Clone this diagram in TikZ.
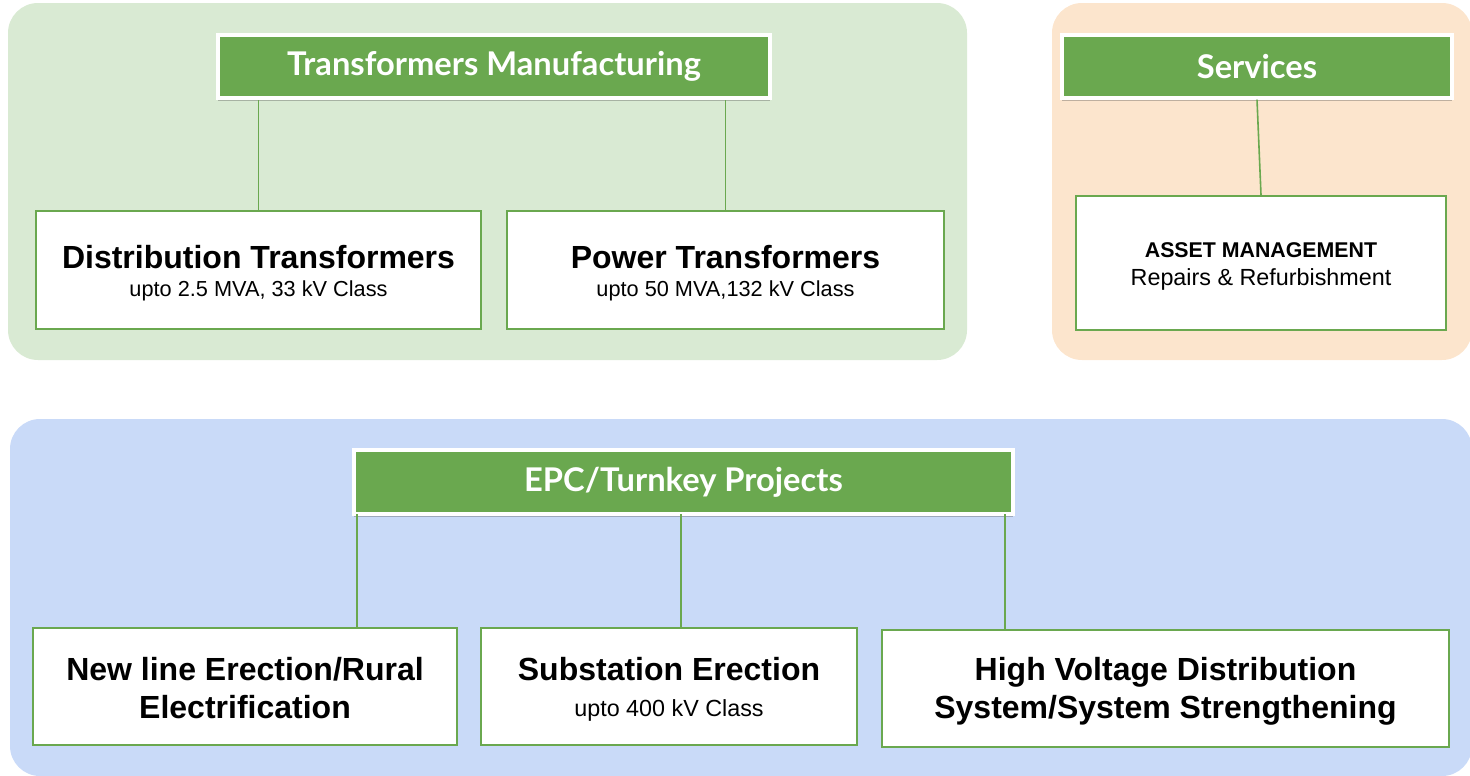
\documentclass[tikz,border=0pt]{standalone}
\usepackage{fontspec}
\setmainfont{Liberation Sans}
\newfontfamily\headfont{Lato}
\usetikzlibrary{shadows}
\definecolor{pgreen}{HTML}{D9EAD3}
\definecolor{porange}{HTML}{FCE5CD}
\definecolor{pblue}{HTML}{C9DAF8}
\definecolor{hgreen}{HTML}{6AA84F}
\tikzset{
  panel/.style={rounded corners=30*0.75pt, draw=none},
  header/.style={fill=hgreen, draw=white, line width=2.5pt, inner sep=0pt,
    text=white, font=\headfont\bfseries\fontsize{24.5}{28}\selectfont,
    drop shadow={shadow xshift=0pt, shadow yshift=-2.5pt, opacity=0.35, fill=black!70}},
  leaf/.style={fill=white, draw=hgreen, line width=1.5pt, inner sep=0pt, align=center},
  conn/.style={draw=hgreen, line width=1.2pt},
  ttl/.style={font=\bfseries\fontsize{24}{28.5}\selectfont},
}
\newcommand{\subt}[2]{{\fontsize{#1}{#1}\selectfont #2}}
\begin{document}
\begin{tikzpicture}[x=0.75pt,y=-0.75pt]
\useasboundingbox (0,0) rectangle (1470,775);
\clip (0,0) rectangle (1470,775);
% panels
\fill[pgreen, panel] (8,3) rectangle (967,360);
\fill[porange, panel] (1052,3) rectangle (1472,360);
\fill[pblue, panel] (10,419) rectangle (1472,776);
% headers
\node[header, minimum width=552*0.75pt, minimum height=63*0.75pt] (tm) at (494,66.5) {Transformers Manufacturing};
\node[header, minimum width=390*0.75pt, minimum height=63*0.75pt] (svc) at (1257,66.5) {Services};
\node[header, minimum width=659*0.75pt, minimum height=64*0.75pt] (epc) at (683.5,482) {EPC/Turnkey Projects};
% leaves
\node[leaf, minimum width=445*0.75pt, minimum height=118*0.75pt] (dist) at (258.5,270) {};
\node[ttl] (distT) at (258.5,257) {Distribution Transformers};
\node (distS) at (258.5,291) {\subt{16.3}{upto 2.5 MVA, 33 kV Class}};
\node[leaf, minimum width=437*0.75pt, minimum height=118*0.75pt] (pow) at (725.5,270) {};
\node[ttl] (powT) at (725.5,257) {Power Transformers};
\node (powS) at (725.5,291) {\subt{16.3}{upto 50 MVA,132 kV Class}};
\node[leaf, minimum width=370*0.75pt, minimum height=134*0.75pt] (asset) at (1261,263) {};
\node[font=\bfseries\fontsize{16}{18}\selectfont] (assetT) at (1261,250) {ASSET MANAGEMENT};
\node (assetS) at (1261,279) {\subt{17.5}{Repairs \& Refurbishment}};
\node[leaf, minimum width=424*0.75pt, minimum height=117*0.75pt] (nl) at (245,686.5) {};
\node[ttl, align=center] (nlT) at (245,688) {New line Erection/Rural\\Electrification};
\node[leaf, minimum width=376*0.75pt, minimum height=117*0.75pt] (sub) at (669,686.5) {};
\node[ttl] (subT) at (669,669) {Substation Erection};
\node (subS) at (669,710) {\subt{17.5}{upto 400 kV Class}};
\node[leaf, minimum width=567*0.75pt, minimum height=117*0.75pt] (hv) at (1165.5,688.5) {};
\node[ttl, align=center] (hvT) at (1165.5,691) {High Voltage Distribution\\System/System Strengthening};
% connectors
\draw[conn] (dist.north) -- (dist.north |- tm.south);
\draw[conn] (pow.north) -- (pow.north |- tm.south);
\draw[conn] (svc.south) -- (asset.north);
\coordinate (e1) at (357,514);
\coordinate (e2) at (681,514);
\coordinate (e3) at (1005,514);
\draw[conn] (e1) -- (e1 |- nl.north);
\draw[conn] (e2) -- (e2 |- sub.north);
\draw[conn] (e3) -- (e3 |- hv.north);
\end{tikzpicture}
\end{document}
